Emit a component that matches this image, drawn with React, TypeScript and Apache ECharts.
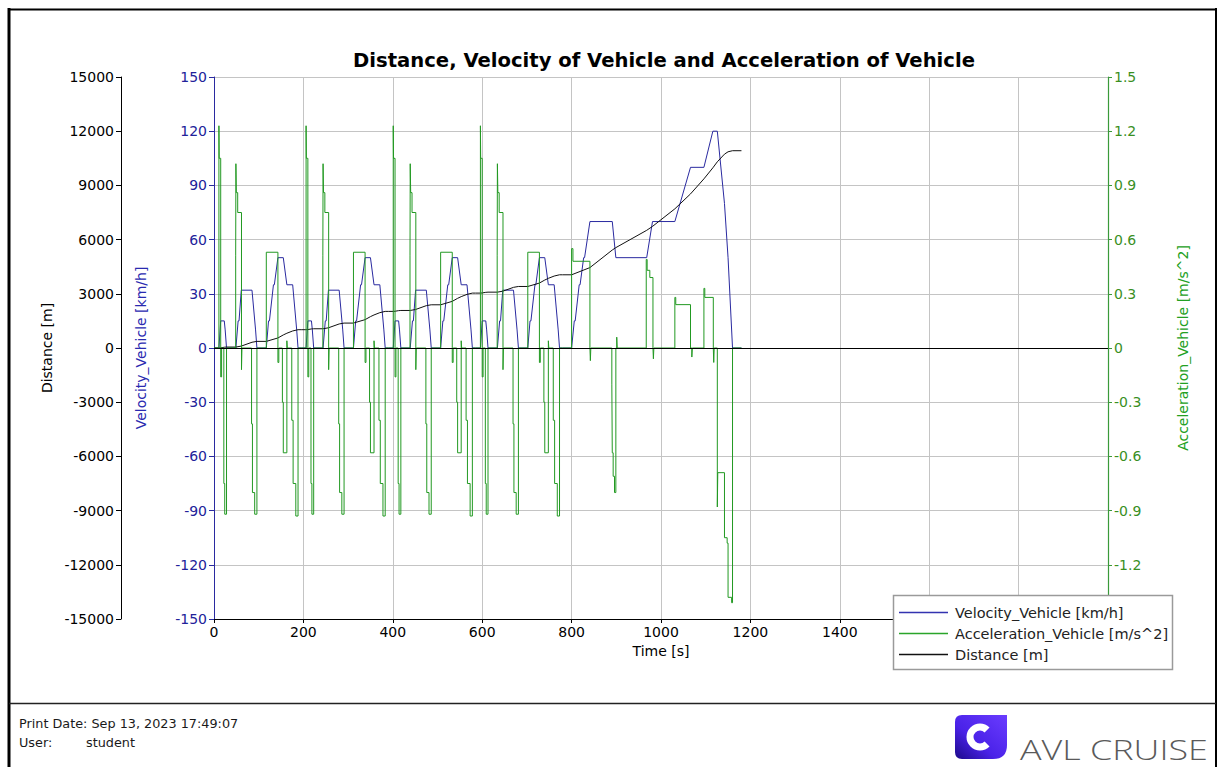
import React, { useEffect, useRef } from "react";
import * as echarts from "echarts";

const chartTitle = "Distance, Velocity of Vehicle and Acceleration of Vehicle";
const velocityName = "Velocity_Vehicle [km/h]";
const accelName = "Acceleration_Vehicle [m/s^2]";
const distanceName = "Distance [m]";
const timeName = "Time [s]";
const printDate = "Print Date: Sep 13, 2023 17:49:07";
const userLabel = "User:";
const userName = "student";
const brandName = "AVL CRUISE";

// Velocity [km/h] vs time [s]
const velocityCycle1: [number, number][] = [
  [0, 0], [11, 0], [15, 15], [23, 15], [25, 10], [28, 0], [49, 0], [54, 15], [56, 15], [61, 32], [85, 32], [93, 10], [96, 0],
  [117, 0], [122, 15], [124, 15], [133, 35], [135, 35], [143, 50], [155, 50], [163, 35], [176, 35], [185, 10], [188, 0],
];
const velocityCycle2: [number, number][] = [
  [195, 0], [206, 0], [210, 15], [218, 15], [220, 10], [223, 0], [244, 0], [249, 15], [251, 15], [256, 32], [280, 32], [288, 10], [291, 0],
  [312, 0], [317, 15], [319, 15], [328, 35], [330, 35], [338, 50], [350, 50], [358, 35], [371, 35], [380, 10], [383, 0],
];
const velocityCycle3: [number, number][] = [
  [390, 0], [401, 0], [405, 15], [413, 15], [415, 10], [418, 0], [439, 0], [444, 15], [446, 15], [451, 32], [475, 32], [483, 10], [486, 0],
  [507, 0], [512, 15], [514, 15], [523, 35], [525, 35], [533, 50], [545, 50], [553, 35], [566, 35], [575, 10], [578, 0],
];
const velocityCycle4: [number, number][] = [
  [585, 0], [596, 0], [600, 15], [608, 15], [610, 10], [613, 0], [634, 0], [639, 15], [641, 15], [646, 32], [670, 32], [678, 10], [681, 0],
  [702, 0], [707, 15], [709, 15], [718, 35], [720, 35], [728, 50], [740, 50], [748, 35], [761, 35], [770, 10], [773, 0],
];
const velocityExtraUrban: [number, number][] = [
  [780, 0], [800, 0], [806, 15], [808, 15], [817, 35], [819, 35], [827, 50], [829, 50], [841, 70], [891, 70], [899, 50], [968, 50],
  [981, 70], [1031, 70], [1066, 100], [1096, 100], [1116, 120], [1126, 120], [1142, 80], [1150, 50], [1160, 0], [1180, 0],
];

// Acceleration [m/s^2] vs time [s]
const accelCycle1: [number, number][] = [
  [0, 0], [11, 0], [11, 1.23], [11.6, 1.23], [11.6, 1.05], [15, 1.05], [15, -0.16], [17, -0.16], [17, 0], [22, 0], [22, -0.75], [24, -0.75],
  [24, -0.92], [28, -0.92], [28, 0], [48.5, 0], [48.5, 0.51], [49, 0.51], [49, 1.02], [50, 1.02], [50, 0.86], [53, 0.86], [53, 0.75],
  [61.5, 0.75], [61.5, -0.12], [62.5, -0.12], [62.5, 0], [84, 0], [84, -0.42], [86, -0.42], [86, -0.8], [91, -0.8], [91, -0.92], [96, -0.92],
  [96, 0], [117, 0], [117, 0.53], [143, 0.53], [143, -0.08], [145, -0.08], [145, 0], [153, 0], [153, -0.3], [155, -0.3], [155, -0.58],
  [163, -0.58], [163, 0.04], [164, 0.04], [164, 0], [174, 0], [174, -0.4], [177, -0.4], [177, -0.75], [183, -0.75], [183, -0.93], [188, -0.93], [188, 0],
];
const accelCycle2: [number, number][] = [
  [195, 0], [206, 0], [206, 1.23], [206.6, 1.23], [206.6, 1.05], [210, 1.05], [210, -0.16], [212, -0.16], [212, 0], [217, 0], [217, -0.75], [219, -0.75],
  [219, -0.92], [223, -0.92], [223, 0], [243.5, 0], [243.5, 0.51], [244, 0.51], [244, 1.02], [245, 1.02], [245, 0.86], [248, 0.86], [248, 0.75],
  [256.5, 0.75], [256.5, -0.12], [257.5, -0.12], [257.5, 0], [279, 0], [279, -0.42], [281, -0.42], [281, -0.8], [286, -0.8], [286, -0.92], [291, -0.92],
  [291, 0], [312, 0], [312, 0.53], [338, 0.53], [338, -0.08], [340, -0.08], [340, 0], [348, 0], [348, -0.3], [350, -0.3], [350, -0.58],
  [358, -0.58], [358, 0.04], [359, 0.04], [359, 0], [369, 0], [369, -0.4], [372, -0.4], [372, -0.75], [378, -0.75], [378, -0.93], [383, -0.93], [383, 0],
];
const accelCycle3: [number, number][] = [
  [390, 0], [401, 0], [401, 1.23], [401.6, 1.23], [401.6, 1.05], [405, 1.05], [405, -0.16], [407, -0.16], [407, 0], [412, 0], [412, -0.75], [414, -0.75],
  [414, -0.92], [418, -0.92], [418, 0], [438.5, 0], [438.5, 0.51], [439, 0.51], [439, 1.02], [440, 1.02], [440, 0.86], [443, 0.86], [443, 0.75],
  [451.5, 0.75], [451.5, -0.12], [452.5, -0.12], [452.5, 0], [474, 0], [474, -0.42], [476, -0.42], [476, -0.8], [481, -0.8], [481, -0.92], [486, -0.92],
  [486, 0], [507, 0], [507, 0.53], [533, 0.53], [533, -0.08], [535, -0.08], [535, 0], [543, 0], [543, -0.3], [545, -0.3], [545, -0.58],
  [553, -0.58], [553, 0.04], [554, 0.04], [554, 0], [564, 0], [564, -0.4], [567, -0.4], [567, -0.75], [573, -0.75], [573, -0.93], [578, -0.93], [578, 0],
];
const accelCycle4: [number, number][] = [
  [585, 0], [596, 0], [596, 1.23], [596.6, 1.23], [596.6, 1.05], [600, 1.05], [600, -0.16], [602, -0.16], [602, 0], [607, 0], [607, -0.75], [609, -0.75],
  [609, -0.92], [613, -0.92], [613, 0], [633.5, 0], [633.5, 0.51], [634, 0.51], [634, 1.02], [635, 1.02], [635, 0.86], [638, 0.86], [638, 0.75],
  [646.5, 0.75], [646.5, -0.12], [647.5, -0.12], [647.5, 0], [669, 0], [669, -0.42], [671, -0.42], [671, -0.8], [676, -0.8], [676, -0.92], [681, -0.92],
  [681, 0], [702, 0], [702, 0.53], [728, 0.53], [728, -0.08], [730, -0.08], [730, 0], [738, 0], [738, -0.3], [740, -0.3], [740, -0.58],
  [748, -0.58], [748, 0.04], [749, 0.04], [749, 0], [759, 0], [759, -0.4], [762, -0.4], [762, -0.75], [768, -0.75], [768, -0.93], [773, -0.93], [773, 0],
];
const accelExtraUrban: [number, number][] = [
  [780, 0], [800, 0], [800, 0.55], [803, 0.55], [803, 0.48], [841, 0.48], [841, 0], [842, 0], [842, -0.07], [843, -0.07], [843, 0],
  [890, 0], [890, -0.2], [891, -0.2], [891, -0.58], [893, -0.58], [893, -0.71], [896, -0.71], [896, -0.8], [899, -0.8], [899, 0],
  [901, 0], [901, 0.06], [902, 0.06], [902, 0], [967, 0], [967, 0.49], [969, 0.49], [969, 0.43], [975, 0.43], [975, 0.39], [982, 0.39],
  [982, 0], [983, 0], [983, -0.06], [984, -0.06], [984, 0], [1031, 0], [1031, 0.28], [1033, 0.28], [1033, 0.24], [1066, 0.24], [1066, 0],
  [1069, 0], [1069, -0.05], [1070, -0.05], [1070, 0], [1096, 0], [1096, 0.33], [1098, 0.33], [1098, 0.28], [1117, 0.28], [1117, 0],
  [1118, 0], [1118, -0.08], [1119, -0.08], [1119, 0], [1126, 0], [1126, -0.88], [1127, -0.88], [1127, -0.69], [1142, -0.69],
  [1142, -1.05], [1148, -1.05], [1148, -1.08], [1150, -1.08], [1150, -1.38], [1158, -1.38], [1158, -1.41], [1160, -1.41], [1160, 0], [1180, 0],
];

// Distance [m] vs time [s]
const distanceCycle1: [number, number][] = [
  [0, 0], [11, 0], [15, 8], [23, 42], [28, 52], [49, 52], [61, 105], [85, 318], [96, 366], [117, 366], [143, 556], [155, 723], [163, 817], [176, 943], [188, 1013],
];
const distanceCycle2: [number, number][] = [
  [195, 1013], [206, 1013], [210, 1021], [218, 1055], [223, 1065], [244, 1065], [256, 1118], [280, 1331], [291, 1379], [312, 1379], [338, 1569], [350, 1736], [358, 1830], [371, 1956], [383, 2026],
];
const distanceCycle3: [number, number][] = [
  [390, 2026], [401, 2026], [405, 2034], [413, 2068], [418, 2078], [439, 2078], [451, 2131], [475, 2344], [486, 2392], [507, 2392], [533, 2582], [545, 2749], [553, 2843], [566, 2969], [578, 3039],
];
const distanceCycle4: [number, number][] = [
  [585, 3039], [596, 3039], [600, 3047], [608, 3081], [613, 3091], [634, 3091], [646, 3144], [670, 3357], [681, 3405], [702, 3405], [728, 3595], [740, 3762], [748, 3856], [761, 3982], [773, 4052],
];
const distanceExtraUrban: [number, number][] = [
  [780, 4052], [800, 4052], [841, 4451], [891, 5423], [899, 5556], [968, 6514], [981, 6731], [1031, 7703], [1066, 8529], [1096, 9362],
  [1116, 9973], [1126, 10306], [1142, 10730], [1150, 10860], [1160, 10920], [1180, 10920],
];

const blue = "#2a2aa0";
const green = "#229922";
const black = "#111111";
const gridGray = "#c4c4c4";

export default function App() {
  const ref = useRef<HTMLDivElement>(null);

  useEffect(() => {
    if (!ref.current) return;
    echarts.graphic.registerShape(
      "avlLogo",
      echarts.graphic.extendPath("M7,0 L52,0 L52,30 Q52,44 38,44 L7,44 Q0,44 0,37 L0,7 Q0,0 7,0 Z", {})
    );
    const chart = echarts.init(ref.current, null, { renderer: "svg" });

    const velocity = [...velocityCycle1, ...velocityCycle2, ...velocityCycle3, ...velocityCycle4, ...velocityExtraUrban];
    const accel = [...accelCycle1, ...accelCycle2, ...accelCycle3, ...accelCycle4, ...accelExtraUrban];
    const distance = [...distanceCycle1, ...distanceCycle2, ...distanceCycle3, ...distanceCycle4, ...distanceExtraUrban];

    const axisFont = { fontFamily: "DejaVu Sans", fontSize: 14 };

    const legendEntries = [
      { name: velocityName, color: "#3333b0", y: 612 },
      { name: accelName, color: "#2aa52a", y: 633 },
      { name: distanceName, color: black, y: 654 },
    ];
    const legendGraphics: any[] = [
      {
        type: "rect",
        z: 100,
        shape: { x: 893.5, y: 595.5, width: 279, height: 74 },
        style: { fill: "#ffffff", stroke: "#9a9a9a", lineWidth: 1.5 },
      },
    ];
    legendEntries.forEach((e) => {
      legendGraphics.push({
        type: "line",
        z: 101,
        shape: { x1: 899, y1: e.y + 0.5, x2: 948, y2: e.y + 0.5 },
        style: { stroke: e.color, lineWidth: 1.6 },
      });
      legendGraphics.push({
        type: "text",
        z: 101,
        x: 955,
        y: e.y + 0.5,
        style: { text: e.name, fontFamily: "DejaVu Sans", fontSize: 14.5, fill: "#222", textVerticalAlign: "middle" },
      });
    });

    chart.setOption({
      animation: false,
      backgroundColor: "#ffffff",
      title: {
        text: chartTitle,
        left: 659,
        top: 45,
        textAlign: "center",
        textStyle: { fontFamily: "DejaVu Sans", fontSize: 19.6, fontWeight: "bold", color: "#000" },
      },
      grid: { left: 214, right: 112, top: 77, bottom: 148, containLabel: false },
      xAxis: {
        type: "value",
        min: 0,
        max: 2000,
        interval: 200,
        name: timeName,
        nameLocation: "middle",
        nameGap: 24,
        nameTextStyle: { ...axisFont, color: "#000" },
        axisLine: { onZero: false, lineStyle: { color: "#000", width: 1 } },
        axisTick: { show: true, length: 4, lineStyle: { color: "#000" } },
        axisLabel: {
          ...axisFont,
          color: "#000",
          margin: 6,
          formatter: (v: number) => (v >= 1600 ? "" : String(v)),
        },
        splitLine: { show: true, lineStyle: { color: gridGray, width: 1 } },
      },
      yAxis: [
        {
          type: "value",
          position: "left",
          min: -150,
          max: 150,
          interval: 30,
          name: velocityName,
          nameLocation: "middle",
          nameRotate: 90,
          nameGap: 66,
          nameTextStyle: { ...axisFont, color: "#2a2ab0" },
          axisLine: { show: true, onZero: false, lineStyle: { color: blue, width: 1 } },
          axisTick: { show: true, length: 5, lineStyle: { color: blue } },
          axisLabel: { ...axisFont, color: "#22229a", margin: 7, formatter: (v: number) => String(v) },
          splitLine: { show: true, lineStyle: { color: gridGray, width: 1 } },
        },
        {
          type: "value",
          position: "left",
          offset: 93,
          min: -15000,
          max: 15000,
          interval: 3000,
          name: distanceName,
          nameLocation: "middle",
          nameRotate: 90,
          nameGap: 60,
          nameTextStyle: { ...axisFont, color: "#000" },
          axisLine: { show: true, onZero: false, lineStyle: { color: "#000", width: 1 } },
          axisTick: { show: true, length: 5, lineStyle: { color: "#000" } },
          axisLabel: { ...axisFont, color: "#000", margin: 7, formatter: (v: number) => String(v) },
          splitLine: { show: false },
        },
        {
          type: "value",
          position: "right",
          min: -1.5,
          max: 1.5,
          interval: 0.3,
          name: accelName,
          nameLocation: "middle",
          nameRotate: 90,
          nameGap: 68,
          nameTextStyle: { ...axisFont, color: "#22a022" },
          axisLine: { show: true, onZero: false, lineStyle: { color: "#3a9a3a", width: 1.2 } },
          axisTick: { show: true, length: 4, lineStyle: { color: "#3a9a3a" } },
          axisLabel: {
            ...axisFont,
            color: "#3a8f1f",
            margin: 6,
            formatter: (v: number) => (v <= -1.45 ? "" : String(Number(v.toFixed(1)))),
          },
          splitLine: { show: false },
        },
      ],
      series: [
        {
          name: velocityName,
          type: "line",
          yAxisIndex: 0,
          data: velocity,
          symbol: "none",
          showSymbol: false,
          silent: true,
          z: 2,
          lineStyle: { color: blue, width: 1 },
          itemStyle: { color: blue },
          markLine: {
            silent: true,
            symbol: ["none", "none"],
            label: { show: false },
            lineStyle: { color: "#000", width: 1, type: "solid" },
            data: [{ yAxis: 0 }],
          },
        },
        {
          name: accelName,
          type: "line",
          yAxisIndex: 2,
          data: accel,
          symbol: "none",
          showSymbol: false,
          silent: true,
          z: 4,
          lineStyle: { color: green, width: 1 },
          itemStyle: { color: green },
        },
        {
          name: distanceName,
          type: "line",
          yAxisIndex: 1,
          data: distance,
          symbol: "none",
          showSymbol: false,
          silent: true,
          z: 3,
          lineStyle: { color: black, width: 1 },
          itemStyle: { color: black },
        },
      ],
      graphic: [
        { type: "line", shape: { x1: 9, y1: 8, x2: 9, y2: 767 }, style: { stroke: "#000", lineWidth: 3 } },
        { type: "line", shape: { x1: 8, y1: 9.5, x2: 1217, y2: 9.5 }, style: { stroke: "#000", lineWidth: 2 } },
        { type: "line", shape: { x1: 1216, y1: 8, x2: 1216, y2: 767 }, style: { stroke: "#000", lineWidth: 2 } },
        { type: "line", shape: { x1: 9, y1: 703.5, x2: 1216, y2: 703.5 }, style: { stroke: "#222", lineWidth: 1.5 } },
        ...legendGraphics,
        {
          type: "text",
          x: 19,
          y: 723,
          style: { text: printDate, fontFamily: "DejaVu Sans", fontSize: 12.8, fill: "#1a1a1a", textVerticalAlign: "middle" },
        },
        {
          type: "text",
          x: 19,
          y: 742,
          style: { text: userLabel, fontFamily: "DejaVu Sans", fontSize: 12.8, fill: "#1a1a1a", textVerticalAlign: "middle" },
        },
        {
          type: "text",
          x: 86,
          y: 742,
          style: { text: userName, fontFamily: "DejaVu Sans", fontSize: 12.8, fill: "#1a1a1a", textVerticalAlign: "middle" },
        },
        {
          type: "avlLogo",
          x: 955,
          y: 715,
          style: {
            fill: {
              type: "linear",
              x: 1,
              y: 0,
              x2: 0,
              y2: 1,
              colorStops: [
                { offset: 0, color: "#6a3cff" },
                { offset: 0.6, color: "#4a22e8" },
                { offset: 1, color: "#1c0a8a" },
              ],
            },
          },
        },
        {
          type: "arc",
          shape: { cx: 980, cy: 737, r: 10, startAngle: Math.PI / 4, endAngle: (7 * Math.PI) / 4, clockwise: true },
          style: { stroke: "#ffffff", lineWidth: 7, fill: "none" },
        },
        {
          type: "text",
          x: 1020,
          y: 749,
          scaleX: 1.33,
          style: {
            text: brandName,
            fontFamily: "Open Sans",
            fontWeight: 300,
            fontSize: 27,
            fill: "#5a5a5a",
            textVerticalAlign: "middle",
          },
        },
      ],
    });

    return () => chart.dispose();
  }, []);

  return (
    <div
      ref={ref}
      style={{ position: "fixed", left: 0, top: 0, width: 1220, height: 767, background: "#fff" }}
    />
  );
}
